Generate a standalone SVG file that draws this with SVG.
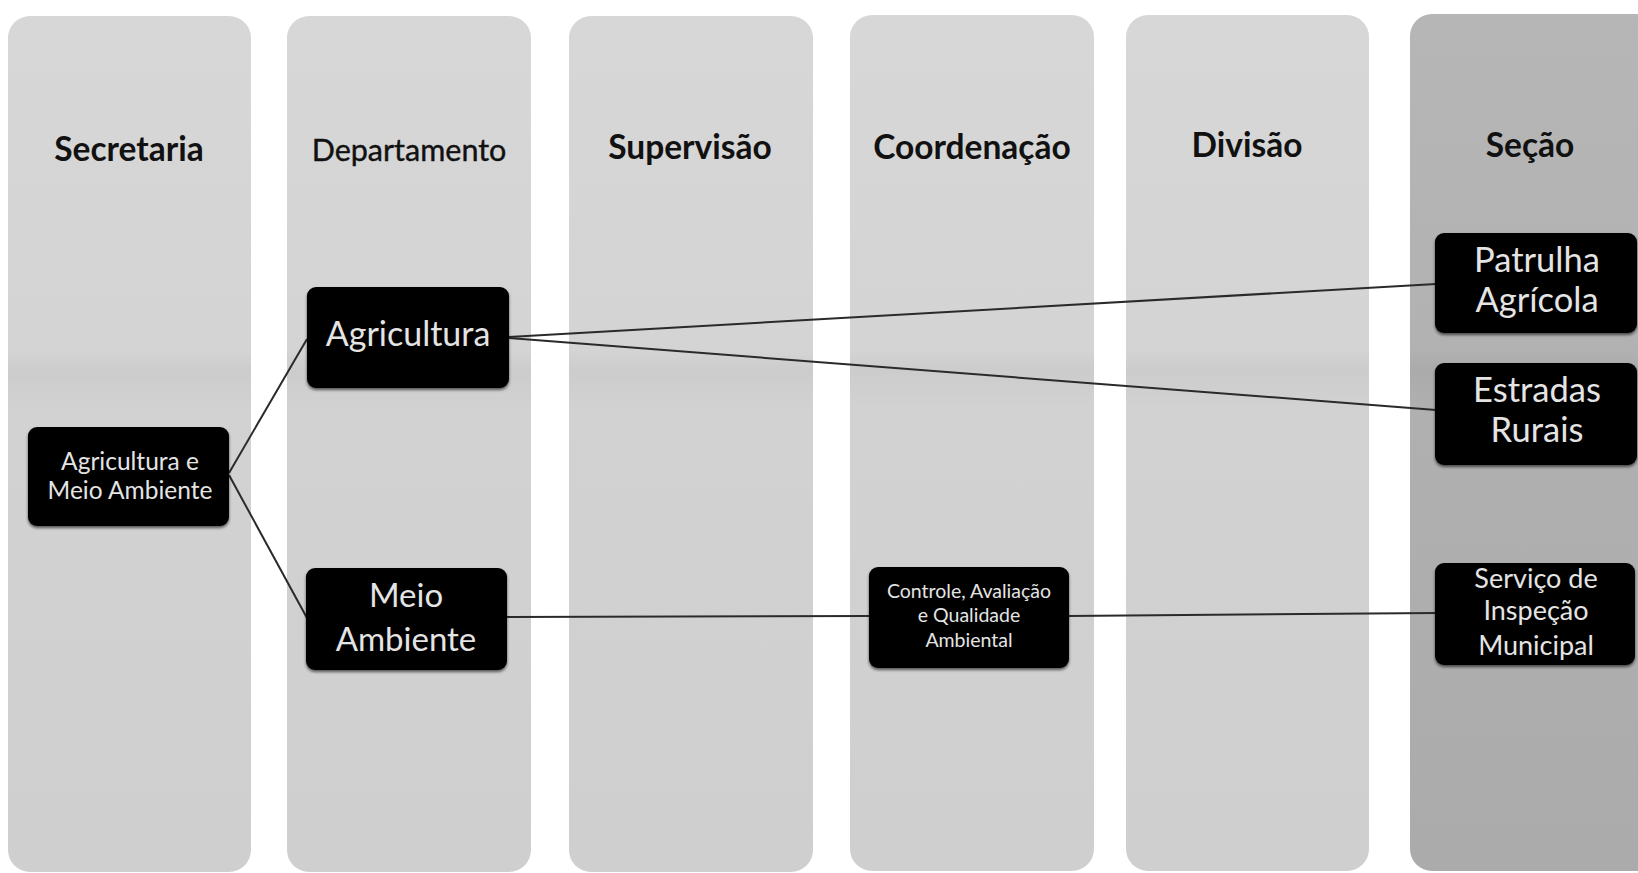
<svg xmlns="http://www.w3.org/2000/svg" width="1638" height="873" viewBox="0 0 1638 873">
<defs>
<linearGradient id="colg" x1="0" y1="0" x2="0" y2="1">
<stop offset="0" stop-color="#d7d7d7"/>
<stop offset="0.39" stop-color="#d4d4d4"/>
<stop offset="0.415" stop-color="#cccccc"/>
<stop offset="0.46" stop-color="#d2d2d2"/>
<stop offset="1" stop-color="#cfcfcf"/>
</linearGradient>
<linearGradient id="colg6" x1="0" y1="0" x2="0" y2="1">
<stop offset="0" stop-color="#b6b6b6"/>
<stop offset="0.39" stop-color="#b2b2b2"/>
<stop offset="0.415" stop-color="#ababab"/>
<stop offset="0.46" stop-color="#b0b0b0"/>
<stop offset="1" stop-color="#ababab"/>
</linearGradient>
<filter id="sh" x="-10%" y="-10%" width="120%" height="130%">
<feGaussianBlur in="SourceAlpha" stdDeviation="1.5"/>
<feOffset dy="2"/>
<feComponentTransfer><feFuncA type="linear" slope="0.6"/></feComponentTransfer>
<feMerge><feMergeNode/><feMergeNode in="SourceGraphic"/></feMerge>
</filter>
</defs>
<style>
.col{fill:url(#colg)}
.col6{fill:url(#colg6)}
.title{font-family:Lato,"Liberation Sans",sans-serif;font-weight:700;font-size:33.5px;fill:#111;text-anchor:middle}
.title2{font-family:Lato,"Liberation Sans",sans-serif;font-weight:400;font-size:30.5px;fill:#111;stroke:#111;stroke-width:0.4;text-anchor:middle}
.node{fill:#050505;filter:url(#sh)}
.nt{font-family:Lato,"Liberation Sans",sans-serif;font-weight:400;fill:#e4e4e4;text-anchor:middle}
.edge{stroke:#2a2a2a;stroke-width:2;fill:none}
</style>
<rect width="1638" height="873" fill="#ffffff"/>
<g id="lanes">
<rect class="col" x="8" y="16" width="243" height="856" rx="22"/>
<rect class="col" x="287" y="16" width="244" height="856" rx="22"/>
<rect class="col" x="569" y="16" width="244" height="856" rx="22"/>
<rect class="col" x="850" y="15" width="244" height="856" rx="22"/>
<rect class="col" x="1126" y="15" width="243" height="856" rx="22"/>
<rect class="col6" x="1410" y="14" width="260" height="857" rx="22"/>
<text class="title" x="129" y="161">Secretaria</text>
<text class="title2" x="409" y="161">Departamento</text>
<text class="title" x="690" y="159">Supervisão</text>
<text class="title" x="972" y="159">Coordenação</text>
<text class="title" x="1247" y="157">Divisão</text>
<text class="title" x="1530" y="157">Seção</text>
</g>
<g id="connectors">
<line class="edge" x1="229" y1="473" x2="307" y2="339"/>
<line class="edge" x1="229" y1="475" x2="307" y2="618"/>
<line class="edge" x1="509" y1="337" x2="1436" y2="284"/>
<line class="edge" x1="509" y1="338" x2="1436" y2="410"/>
<line class="edge" x1="507" y1="617" x2="869" y2="616"/>
<line class="edge" x1="1068" y1="616" x2="1436" y2="613"/>
</g>
<g id="n-secretaria">
<rect class="node" x="28" y="427" width="201" height="99" rx="9"/>
<text class="nt" font-size="24.5" x="130" y="470">Agricultura e</text>
<text class="nt" font-size="24.5" x="130" y="499">Meio Ambiente</text>
</g>
<g id="n-agricultura">
<rect class="node" x="307" y="287" width="202" height="101" rx="9"/>
<text class="nt" font-size="34" x="408" y="346">Agricultura</text>
</g>
<g id="n-meioambiente">
<rect class="node" x="306" y="568" width="201" height="102" rx="9"/>
<text class="nt" font-size="33" x="406" y="607">Meio</text>
<text class="nt" font-size="33" x="406" y="651">Ambiente</text>
</g>
<g id="n-controle">
<rect class="node" x="869" y="567" width="200" height="101" rx="9"/>
<text class="nt" font-size="19.5" x="969" y="598">Controle, Avaliação</text>
<text class="nt" font-size="19.5" x="969" y="622">e Qualidade</text>
<text class="nt" font-size="19.5" x="969" y="647">Ambiental</text>
</g>
<g id="n-patrulha">
<rect class="node" x="1435" y="233" width="202" height="100" rx="9"/>
<text class="nt" font-size="34.5" x="1537" y="272">Patrulha</text>
<text class="nt" font-size="34.5" x="1537" y="312">Agrícola</text>
</g>
<g id="n-estradas">
<rect class="node" x="1435" y="363" width="202" height="102" rx="9"/>
<text class="nt" font-size="34.5" x="1537" y="402">Estradas</text>
<text class="nt" font-size="34.5" x="1537" y="442">Rurais</text>
</g>
<g id="n-servico">
<rect class="node" x="1435" y="563" width="200" height="102" rx="9"/>
<text class="nt" font-size="27" x="1536" y="588">Serviço de</text>
<text class="nt" font-size="27" x="1536" y="620">Inspeção</text>
<text class="nt" font-size="27" x="1536" y="655">Municipal</text>
</g>
</svg>
